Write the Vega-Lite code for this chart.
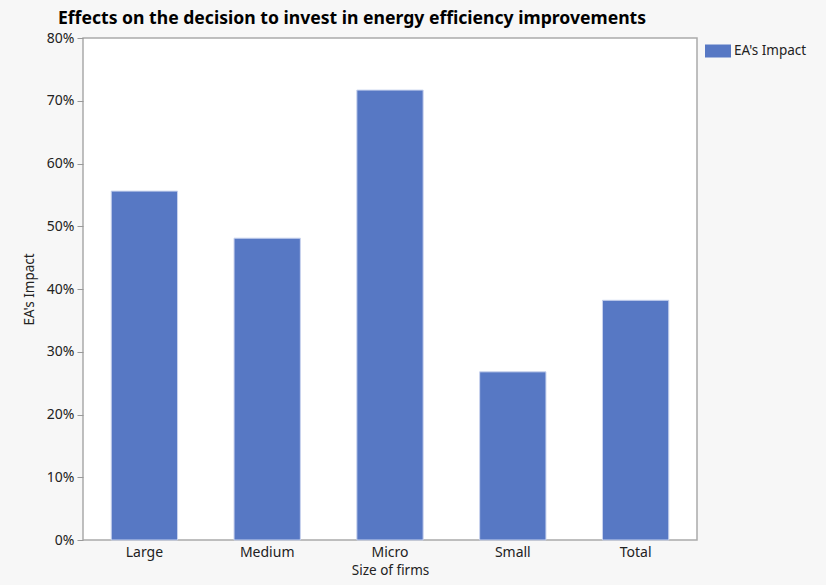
{
  "$schema": "https://vega.github.io/schema/vega-lite/v6.json",
  "autosize": {"type": "none"},
  "width": 614,
  "height": 502,
  "padding": {"left": 83, "top": 38, "right": 129, "bottom": 45},
  "background": "#f7f7f7",
  "title": {
    "text": "Effects on the decision to invest in energy efficiency improvements",
    "anchor": "start",
    "frame": "group",
    "dx": -25,
    "offset": 3,
    "font": "Noto Sans",
    "fontSize": 17.6,
    "fontWeight": "bold",
    "color": "#000000"
  },
  "data": {
    "values": [
      {"size": "Large", "impact": 0.556, "series": "EA's Impact"},
      {"size": "Medium", "impact": 0.481, "series": "EA's Impact"},
      {"size": "Micro", "impact": 0.717, "series": "EA's Impact"},
      {"size": "Small", "impact": 0.268, "series": "EA's Impact"},
      {"size": "Total", "impact": 0.382, "series": "EA's Impact"}
    ]
  },
  "mark": {"type": "bar", "stroke": "#c9d3ee", "strokeWidth": 1},
  "encoding": {
    "x": {
      "field": "size",
      "type": "nominal",
      "sort": ["Large", "Medium", "Micro", "Small", "Total"],
      "scale": {"paddingInner": 0.46, "paddingOuter": 0.23},
      "axis": {
        "title": "Size of firms",
        "labelAngle": 0,
        "ticks": false,
        "labelPadding": 5,
        "titlePadding": 4,
        "domain": false
      }
    },
    "y": {
      "field": "impact",
      "type": "quantitative",
      "scale": {"domain": [0, 0.8], "nice": false},
      "axis": {
        "title": "EA's Impact",
        "format": ".0%",
        "values": [0, 0.1, 0.2, 0.3, 0.4, 0.5, 0.6, 0.7, 0.8],
        "grid": false,
        "tickSize": 6,
        "labelPadding": 3,
        "titlePadding": 10,
        "domain": false
      }
    },
    "color": {
      "field": "series",
      "type": "nominal",
      "scale": {"range": ["#5778c4"]},
      "legend": {
        "title": null,
        "orient": "none",
        "legendX": 622,
        "legendY": 0,
        "padding": 0,
        "symbolType": "M-1,-0.5H1V0.5H-1Z",
        "symbolSize": 676,
        "symbolStrokeWidth": 0,
        "symbolOpacity": 1,
        "labelFont": "Noto Sans",
        "labelFontSize": 13.5,
        "labelColor": "#222222",
        "labelOffset": 3
      }
    }
  },
  "config": {
    "view": {"fill": "#ffffff", "stroke": "#aaaaaa", "strokeWidth": 1.5},
    "axis": {
      "labelFont": "Noto Sans",
      "labelFontSize": 14,
      "labelColor": "#222222",
      "titleFont": "Noto Sans",
      "titleFontSize": 13.5,
      "titleFontWeight": "normal",
      "titleColor": "#222222",
      "tickColor": "#999999"
    }
  }
}
